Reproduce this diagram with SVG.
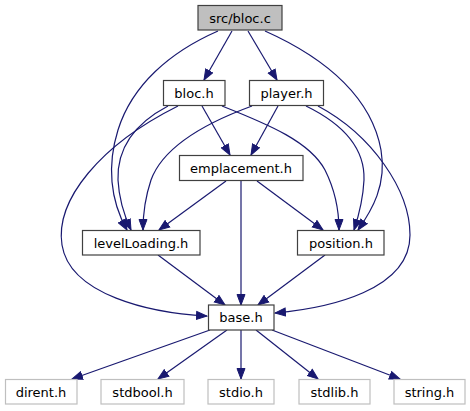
<svg xmlns="http://www.w3.org/2000/svg" width="470" height="411" viewBox="0 0 470 411">
<style>
text{font-family:"DejaVu Sans","Liberation Sans",sans-serif;font-size:13px;fill:#000;text-anchor:middle}
.n{fill:#fff;stroke:#404040;stroke-width:1.2}
.r{fill:#bfbfbf;stroke:#404040;stroke-width:1.2}
.s{fill:#fff;stroke:#bfbfbf;stroke-width:1.2}
.e{fill:none;stroke:#191970;stroke-width:1.2;marker-end:url(#a)}
</style>
<defs>
<marker id="a" markerUnits="userSpaceOnUse" markerWidth="12" markerHeight="10" refX="11" refY="5" orient="auto">
<path d="M0.5,1 L11,5 L0.5,9 z" fill="#191970" stroke="#191970" stroke-width="1"/>
</marker>
</defs>
<g id="edges">
<path class="e" d="M232,31 L204,80"/>
<path class="e" d="M248,31 L277,80"/>
<path class="e" d="M218,31 C170,52 132,85 118,130 C107,165 110,200 127,230"/>
<path class="e" d="M265,31 C330,60 372,100 381,150 C387,185 372,210 358,230"/>
<path class="e" d="M202,106 L230,155"/>
<path class="e" d="M168,106 C132,125 117,150 118,180 C119,200 124,215 131,230"/>
<path class="e" d="M222,106 C270,125 310,142 325,170 C335,190 339,210 339,230"/>
<path class="e" d="M178,106 C100,145 55,200 62,245 C70,295 150,313 207,316"/>
<path class="e" d="M278,106 L251,155"/>
<path class="e" d="M252,106 C200,125 162,150 151,180 C145,198 143,215 143,230"/>
<path class="e" d="M306,106 C345,125 365,150 364,180 C363,200 359,215 354,230"/>
<path class="e" d="M318,106 C372,135 410,190 410,235 C410,290 330,308 275,313"/>
<path class="e" d="M226,181 L159,230"/>
<path class="e" d="M257,181 L323,230"/>
<path class="e" d="M241,181 L241,305"/>
<path class="e" d="M158,255 L225,305"/>
<path class="e" d="M325,255 L258,305"/>
<path class="e" d="M210,330 L72,379"/>
<path class="e" d="M227,330 L158,379"/>
<path class="e" d="M241,330 L241,379"/>
<path class="e" d="M256,330 L318,379"/>
<path class="e" d="M272,330 L400,379"/>
</g>
<g id="n_src"><rect class="r" x="198" y="5.5" width="84" height="24.5"/><text x="240" y="22.5">src/bloc.c</text></g>
<g id="n_bloc"><rect class="n" x="163.5" y="80.5" width="61.5" height="25"/><text x="194" y="97.5">bloc.h</text></g>
<g id="n_player"><rect class="n" x="249.5" y="80.5" width="74" height="25"/><text x="286.5" y="97.5">player.h</text></g>
<g id="n_empl"><rect class="n" x="179.5" y="155.5" width="123.5" height="25"/><text x="241" y="172.5">emplacement.h</text></g>
<g id="n_level"><rect class="n" x="82.5" y="230.5" width="117.5" height="24.5"/><text x="141" y="247.5">levelLoading.h</text></g>
<g id="n_pos"><rect class="n" x="297.5" y="230.5" width="86.5" height="24.5"/><text x="341" y="247.5">position.h</text></g>
<g id="n_base"><rect class="n" x="208.5" y="305" width="65.5" height="25"/><text x="241" y="322">base.h</text></g>
<g id="n_dirent"><rect class="s" x="5.5" y="379.5" width="71.5" height="24.5"/><text x="41" y="396.5">dirent.h</text></g>
<g id="n_stdbool"><rect class="s" x="101" y="379.5" width="83" height="24.5"/><text x="142.5" y="396.5">stdbool.h</text></g>
<g id="n_stdio"><rect class="s" x="208" y="379.5" width="66" height="24.5"/><text x="241" y="396.5">stdio.h</text></g>
<g id="n_stdlib"><rect class="s" x="299" y="379.5" width="71" height="24.5"/><text x="334.5" y="396.5">stdlib.h</text></g>
<g id="n_string"><rect class="s" x="394" y="379.5" width="71" height="24.5"/><text x="429.5" y="396.5">string.h</text></g>
</svg>
